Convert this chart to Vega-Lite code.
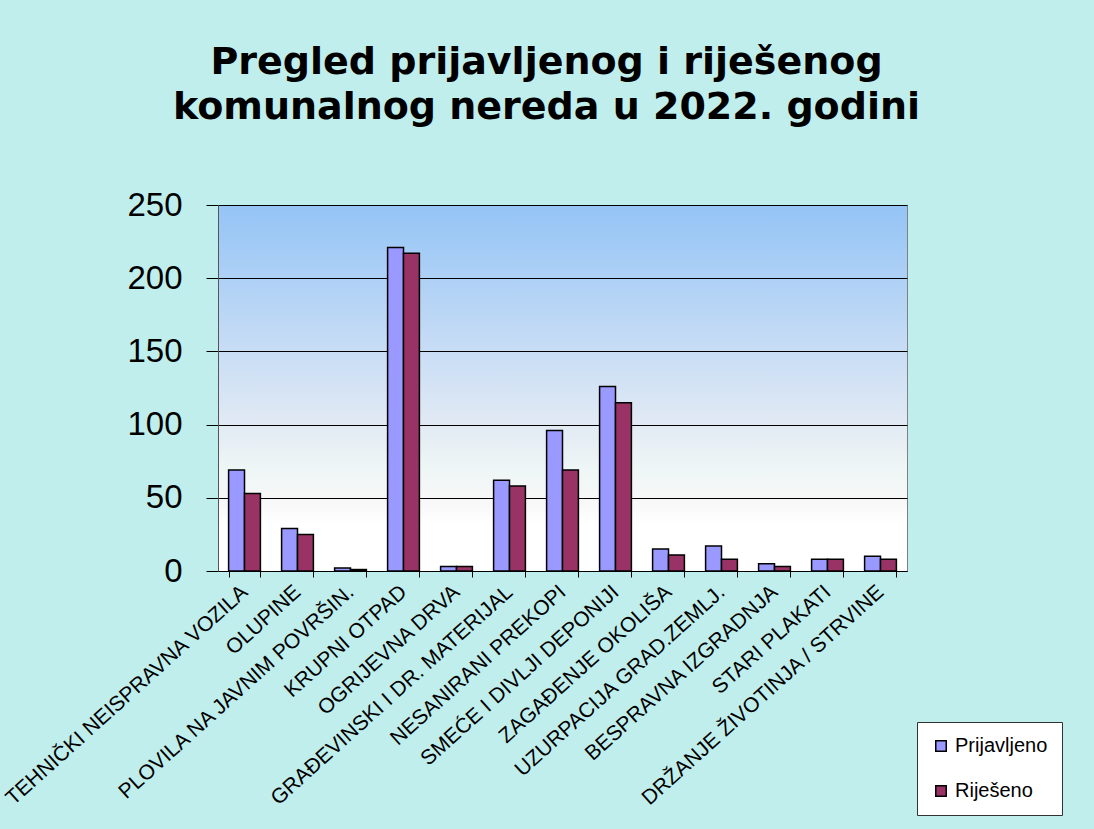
{
  "$schema": "https://vega.github.io/schema/vega-lite/v6.json",
  "width": 689,
  "height": 366,
  "autosize": {"type": "none"},
  "padding": {"left": 218, "top": 205, "right": 187, "bottom": 258},
  "background": "#c0eeed",
  "title": {
    "text": ["Pregled prijavljenog i riješenog", "komunalnog nereda u 2022. godini"],
    "font": "DejaVu Sans",
    "fontWeight": "bold",
    "fontSize": 38,
    "lineHeight": 45,
    "anchor": "middle",
    "frame": "group",
    "dx": -16,
    "offset": 62,
    "color": "black"
  },
  "config": {
    "view": {
      "fill": {
        "gradient": "linear",
        "x1": 0, "y1": 0, "x2": 0, "y2": 1,
        "stops": [
          {"offset": 0, "color": "#94c4f6"},
          {"offset": 0.4, "color": "#c8ddf5"},
          {"offset": 0.6, "color": "#e2eaf4"},
          {"offset": 0.72, "color": "#eef6f6"},
          {"offset": 0.8, "color": "#f7f7f7"},
          {"offset": 0.875, "color": "#ffffff"},
          {"offset": 1, "color": "#ffffff"}
        ]
      },
      "stroke": "#808080",
      "strokeWidth": 1
    },
    "axis": {"labelFont": "Liberation Sans", "labelColor": "black"}
  },
  "data": {
    "values": [
      {"kategorija": "TEHNIČKI NEISPRAVNA VOZILA", "serija": "Prijavljeno", "broj": 69},
      {"kategorija": "TEHNIČKI NEISPRAVNA VOZILA", "serija": "Riješeno", "broj": 53},
      {"kategorija": "OLUPINE", "serija": "Prijavljeno", "broj": 29},
      {"kategorija": "OLUPINE", "serija": "Riješeno", "broj": 25},
      {"kategorija": "PLOVILA NA JAVNIM POVRŠIN.", "serija": "Prijavljeno", "broj": 2},
      {"kategorija": "PLOVILA NA JAVNIM POVRŠIN.", "serija": "Riješeno", "broj": 1},
      {"kategorija": "KRUPNI OTPAD", "serija": "Prijavljeno", "broj": 221},
      {"kategorija": "KRUPNI OTPAD", "serija": "Riješeno", "broj": 217},
      {"kategorija": "OGRIJEVNA DRVA", "serija": "Prijavljeno", "broj": 3},
      {"kategorija": "OGRIJEVNA DRVA", "serija": "Riješeno", "broj": 3},
      {"kategorija": "GRAĐEVINSKI I DR. MATERIJAL", "serija": "Prijavljeno", "broj": 62},
      {"kategorija": "GRAĐEVINSKI I DR. MATERIJAL", "serija": "Riješeno", "broj": 58},
      {"kategorija": "NESANIRANI PREKOPI", "serija": "Prijavljeno", "broj": 96},
      {"kategorija": "NESANIRANI PREKOPI", "serija": "Riješeno", "broj": 69},
      {"kategorija": "SMEĆE I DIVLJI DEPONIJI", "serija": "Prijavljeno", "broj": 126},
      {"kategorija": "SMEĆE I DIVLJI DEPONIJI", "serija": "Riješeno", "broj": 115},
      {"kategorija": "ZAGAĐENJE OKOLIŠA", "serija": "Prijavljeno", "broj": 15},
      {"kategorija": "ZAGAĐENJE OKOLIŠA", "serija": "Riješeno", "broj": 11},
      {"kategorija": "UZURPACIJA GRAD.ZEMLJ.", "serija": "Prijavljeno", "broj": 17},
      {"kategorija": "UZURPACIJA GRAD.ZEMLJ.", "serija": "Riješeno", "broj": 8},
      {"kategorija": "BESPRAVNA IZGRADNJA", "serija": "Prijavljeno", "broj": 5},
      {"kategorija": "BESPRAVNA IZGRADNJA", "serija": "Riješeno", "broj": 3},
      {"kategorija": "STARI PLAKATI", "serija": "Prijavljeno", "broj": 8},
      {"kategorija": "STARI PLAKATI", "serija": "Riješeno", "broj": 8},
      {"kategorija": "DRŽANJE ŽIVOTINJA / STRVINE", "serija": "Prijavljeno", "broj": 10},
      {"kategorija": "DRŽANJE ŽIVOTINJA / STRVINE", "serija": "Riješeno", "broj": 8}
    ]
  },
  "mark": {"type": "bar", "stroke": "black", "strokeWidth": 1.5},
  "encoding": {
    "x": {
      "field": "kategorija",
      "type": "nominal",
      "sort": null,
      "scale": {"paddingInner": 0.4, "paddingOuter": 0.2},
      "axis": {
        "title": null,
        "labelAngle": -42,
        "labelFontSize": 21,
        "labelAlign": "right",
        "labelBaseline": "middle",
        "tickBand": "extent",
        "tickSize": 6,
        "tickColor": "black",
        "domainColor": "black",
        "labelPadding": 12,
        "labelLimit": 500
      }
    },
    "xOffset": {"field": "serija", "type": "nominal", "sort": ["Prijavljeno", "Riješeno"], "scale": {"paddingInner": 0}},
    "y": {
      "field": "broj",
      "type": "quantitative",
      "scale": {"domain": [0, 250], "nice": false},
      "axis": {
        "title": null,
        "values": [0, 50, 100, 150, 200, 250],
        "labelFontSize": 33,
        "tickSize": 12,
        "labelPadding": 24,
        "tickColor": "black",
        "gridColor": "black",
        "gridWidth": 1,
        "gridOpacity": 1,
        "domainColor": "#555555",
        "grid": true
      }
    },
    "color": {
      "field": "serija",
      "type": "nominal",
      "scale": {"domain": ["Prijavljeno", "Riješeno"], "range": ["#9999ff", "#993366"]},
      "legend": {
        "title": null,
        "orient": "none",
        "legendX": 699,
        "legendY": 517,
        "fillColor": "white",
        "strokeColor": "#333333",
        "padding": 14,
        "symbolType": "square",
        "symbolSize": 110,
        "symbolStrokeColor": "black",
        "symbolStrokeWidth": 1.5,
        "symbolOpacity": 1,
        "labelFontSize": 20,
        "labelFont": "Liberation Sans",
        "labelColor": "black",
        "rowPadding": 25,
        "labelOffset": 4
      }
    }
  }
}
